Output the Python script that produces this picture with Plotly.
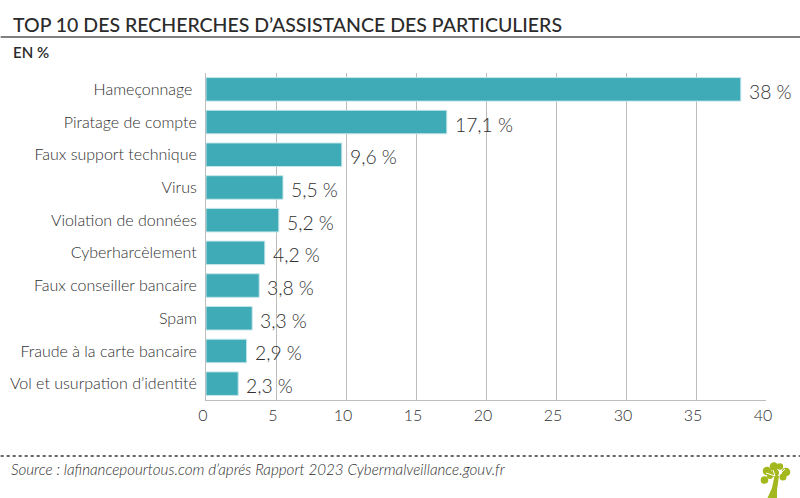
import plotly.graph_objects as go

categories = [
    "Hameçonnage\u00a0",
    "Piratage de compte",
    "Faux support technique",
    "Virus",
    "Violation de données",
    "Cyberharcèlement",
    "Faux conseiller bancaire",
    "Spam",
    "Fraude à la carte bancaire",
    "Vol et usurpation d’identité",
]
values = [38.2, 17.2, 9.7, 5.5, 5.2, 4.2, 3.8, 3.3, 2.9, 2.3]
value_labels = ["38 %", "17,1 %", "9,6 %", "5,5 %", "5,2 %", "4,2 %", "3,8 %", "3,3 %", "2,9 %", "2,3 %"]
x_ticks = [0, 5, 10, 15, 20, 25, 30, 35, 40]

FONT = "Lato"
TEXT = "#2f2f2f"
DARK = "#2b2b2b"
GREEN = "#a3b81c"

# plot area in pixels
LEFT, RIGHT, TOP, BOTTOM = 205.5, 766, 73, 400


def px(x):
    return (x - LEFT) / (RIGHT - LEFT)


def py(y):
    return 1 - (y - TOP) / (BOTTOM - TOP)


fig = go.Figure()
fig.add_trace(
    go.Bar(
        x=values,
        y=categories,
        orientation="h",
        width=0.72,
        marker=dict(color="#3fabb6", line=dict(color="#c5e6ea", width=1)),
        hoverinfo="skip",
    )
)

for val, cat, lab in zip(values, categories, value_labels):
    fig.add_annotation(
        x=val, y=cat, text=lab, showarrow=False, xanchor="left",
        xshift=6, yshift=-2, font=dict(family=FONT, size=19.3, color=TEXT, weight=300),
    )

fig.update_layout(
    width=800,
    height=498,
    margin=dict(l=LEFT, r=800 - RIGHT, t=TOP, b=498 - BOTTOM),
    paper_bgcolor="white",
    plot_bgcolor="white",
    showlegend=False,
    font=dict(family=FONT, color=TEXT),
)
fig.update_xaxes(
    range=[0, 40],
    tickvals=x_ticks,
    automargin=False,
    showgrid=True,
    gridcolor="#bdbdbd",
    gridwidth=1,
    zeroline=False,
    showline=True,
    linecolor="#bdbdbd",
    ticks="",
    ticklabelshift=-3,
    ticklabelstandoff=1,
    tickfont=dict(family=FONT, size=16, color=TEXT, weight=300),
)
fig.update_yaxes(
    autorange="reversed",
    automargin=False,
    showgrid=False,
    showline=True,
    linecolor="#bdbdbd",
    ticks="",
    ticklabelstandoff=5,
    tickfont=dict(family=FONT, size=16, color=TEXT, weight=300),
)


def add_text(text, x, y, size, color, **font_opts):
    fig.add_annotation(
        text=text, xref="paper", yref="paper", x=px(x), y=py(y),
        xanchor="left", yanchor="middle", showarrow=False,
        font=dict(family=FONT, size=size, color=color, **font_opts),
    )


add_text("TOP 10 DES RECHERCHES D’ASSISTANCE DES PARTICULIERS", 10, 24, 19.5, DARK, weight=500)
add_text("EN %", 10, 52, 15, DARK, weight=600)
add_text(
    "Source : lafinancepourtous.com d’aprés Rapport 2023 Cybermalveillance.gouv.fr",
    8, 469, 15.2, TEXT, style="italic", weight=300,
)

# rules
fig.add_shape(type="line", xref="paper", yref="paper", x0=px(0), x1=px(800), y0=py(37), y1=py(37),
              line=dict(color="#555555", width=1.5))
fig.add_shape(type="line", xref="paper", yref="paper", x0=px(0), x1=px(800), y0=py(456), y1=py(456),
              line=dict(color="#333333", width=1.5, dash="dot"))

# tree logo, bottom right
for cx, cy, r in [(764.5, 480, 3.8), (767, 471, 4.3), (774, 466.5, 4.3), (780, 466.5, 3.2),
                  (786, 472, 4.3), (783, 477, 3.5), (775, 473, 4), (770, 476, 3)]:
    fig.add_shape(type="circle", xref="paper", yref="paper",
                  x0=px(cx - r), x1=px(cx + r), y0=py(cy - r), y1=py(cy + r),
                  fillcolor=GREEN, line_width=0)
trunk = [(767.5, 498), (772, 488), (774.5, 476), (779, 476), (777, 490), (777, 498)]
fig.add_shape(
    type="path", xref="paper", yref="paper",
    path="M " + " L ".join(f"{px(a):.5f},{py(b):.5f}" for a, b in trunk) + " Z",
    fillcolor=GREEN, line_width=0,
)
for a, b, c, d in [(775, 476, 766, 473), (775, 476, 773, 470), (778, 476, 785, 469)]:
    fig.add_shape(type="line", xref="paper", yref="paper", x0=px(a), x1=px(c), y0=py(b), y1=py(d),
                  line=dict(color="white", width=1))

fig.write_html("out.html", post_script="document.body.style.margin='0';", config={"displayModeBar": False})
